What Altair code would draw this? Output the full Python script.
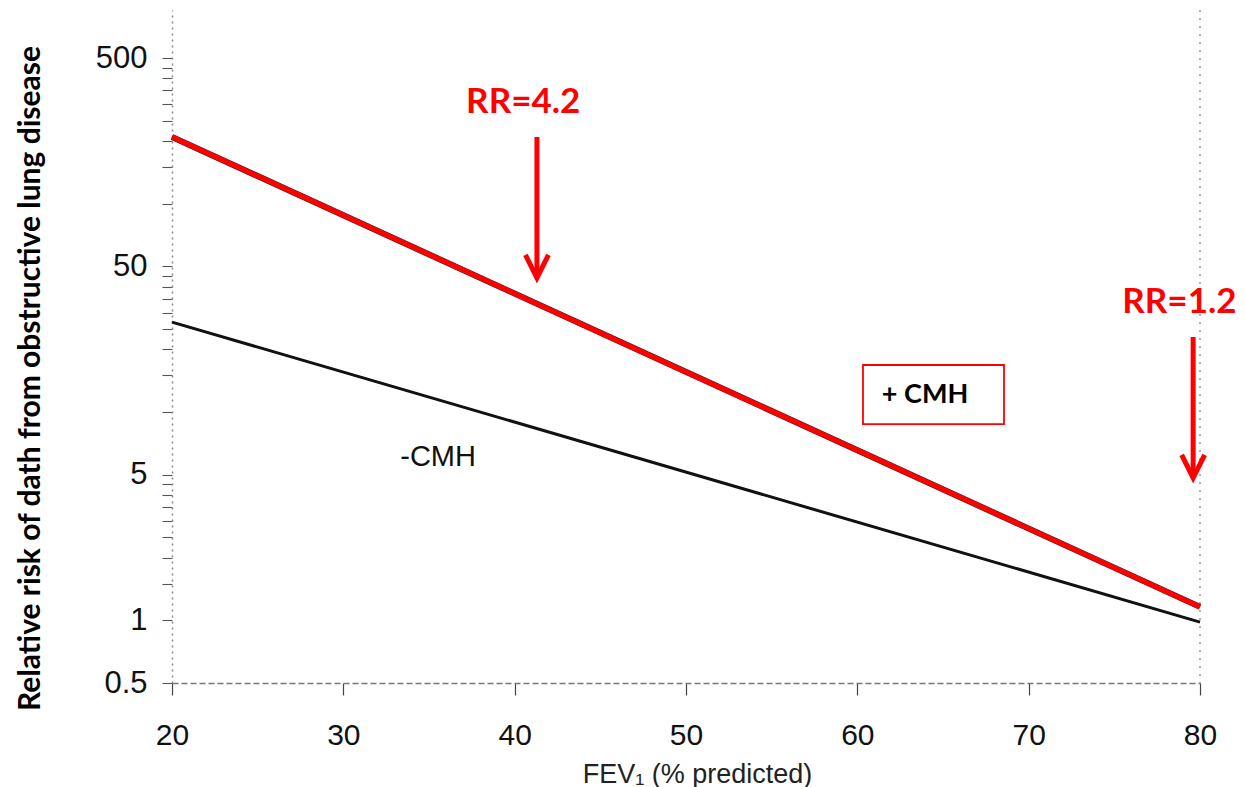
import altair as alt
import pandas as pd

# FEV1 (% predicted) at the two ends of each fitted line
fev = [20, 80]
# relative risk of death, with and without chronic mucus hypersecretion
rr_with_cmh = [209, 1.16]
rr_without_cmh = [27, 0.98]

x_ticks = [20, 30, 40, 50, 60, 70, 80]
y_labels = [0.5, 1, 5, 50, 500]
y_ticks = [0.5, 1, 1.5, 2, 2.5, 3, 3.5, 4, 4.5, 5,
           10, 15, 20, 25, 30, 35, 40, 45, 50,
           100, 150, 200, 250, 300, 350, 400, 450, 500]

# annotation text, placed in data space
note_text = ["RR=4.2", "RR=1.2"]
note_x = [40.5, 78.8]
note_y = [306, 33.7]

arrow_x = [41.3, 79.6]
arrow_top = [209, 22.9]
arrow_tip = [44.0, 4.82]

lines_df = pd.DataFrame({
    "fev": fev + fev,
    "rr": rr_with_cmh + rr_without_cmh,
    "group": ["+ CMH"] * 2 + ["-CMH"] * 2,
})
plus_df = lines_df[lines_df.group == "+ CMH"]
minus_df = lines_df[lines_df.group == "-CMH"]
notes_df = pd.DataFrame({"fev": note_x, "rr": note_y, "label": note_text})
arrows_df = pd.DataFrame({"fev": arrow_x, "rr": arrow_top, "tip": arrow_tip})

xscale = alt.Scale(domain=[20, 80], nice=False, zero=False)
yscale = alt.Scale(type="log", domain=[0.5, 850], nice=False)

x_axis = alt.Axis(
    values=x_ticks, format="d", labelFlush=False,
    labelFont="Liberation Sans", labelFontSize=30, labelColor="#111",
    labelPadding=25, tickSize=12, tickColor="#444", tickWidth=1.2,
    domainColor="#777", domainDash=[6, 3], domainWidth=1.5, grid=False,
    title="FEV₁ (% predicted)", titleFont="Liberation Sans", titleFontSize=27,
    titleFontWeight="normal", titleColor="#222",
    titleX=525, titleY=99, titleAlign="center", titleBaseline="alphabetic",
)
y_axis = alt.Axis(
    values=y_ticks,
    labelExpr="indexof([0.5, 1, 5, 50, 500], datum.value) >= 0 ? datum.value : ''",
    labelFont="Liberation Sans", labelFontSize=31, labelColor="#111",
    labelPadding=15, labelOverlap=False, labelBound=False, labelFlush=False,
    tickSize=10, tickColor="#555", tickWidth=1.1,
    domainColor="#888", domainDash=[2, 4], domainWidth=1.5, grid=False,
    title="Relative risk of dath from obstructive lung disease",
    titleFont="Lato", titleFontSize=30, titleFontWeight="bold", titleColor="#000",
    titleAngle=270, titleX=-142, titleY=368, titleAlign="center", titleBaseline="middle",
)


def xenc(field="fev"):
    return alt.X(f"{field}:Q", scale=xscale, axis=x_axis)


def yenc(field="rr"):
    return alt.Y(f"{field}:Q", scale=yscale, axis=y_axis)


base_minus = alt.Chart(minus_df).mark_line(color="#111", strokeWidth=3).encode(
    x=xenc(), y=yenc(),
)
plus_shadow = alt.Chart(plus_df).mark_line(color="#222", strokeWidth=6).encode(
    x=xenc(), y=yenc(),
)
plus_line = alt.Chart(plus_df).mark_line(color="#ff0000", strokeWidth=5.2).encode(
    x=xenc(), y=yenc(),
)

# dotted frame line at the right end of the x range
frame_right = alt.Chart(pd.DataFrame({"fev": [80]})).mark_rule(
    color="#999", strokeDash=[2, 6], strokeWidth=1.5
).encode(x=xenc())

shafts = alt.Chart(arrows_df).mark_rule(color="#ff0000", strokeWidth=5).encode(
    x=xenc(), y=yenc(), y2="tip:Q",
)
heads = alt.Chart(arrows_df).mark_point(
    shape="M-1,-2L0,0L1,-2", size=529, filled=False,
    color="#ff0000", strokeWidth=5, opacity=1,
).encode(x=xenc(), y=yenc("tip"))
notes = alt.Chart(notes_df).mark_text(
    font="Lato", fontWeight="bold", fontSize=35, color="#ff0000",
    align="center", baseline="middle",
).encode(x=xenc(), y=yenc(), text="label:N")

# boxed label for the +CMH line
box_df = pd.DataFrame({"fev": [60.33], "x2": [68.56], "rr": [8.75], "y2": [16.8]})
box = alt.Chart(box_df).mark_rect(
    fill="white", fillOpacity=0, stroke="#ff0000", strokeWidth=1.8
).encode(x=xenc(), x2="x2:Q", y=yenc(), y2="y2:Q")
plus_label = alt.Chart(pd.DataFrame({"fev": [63.95], "rr": [12.06], "label": ["+ CMH"]})).mark_text(
    font="Lato", fontWeight="bold", fontSize=27, color="#000",
    align="center", baseline="middle",
).encode(x=xenc(), y=yenc(), text="label:N")
minus_label = alt.Chart(pd.DataFrame({"fev": [35.53], "rr": [6.08], "label": ["-CMH"]})).mark_text(
    font="Liberation Sans", fontSize=29, color="#111",
    align="center", baseline="middle",
).encode(x=xenc(), y=yenc(), text="label:N")

chart = alt.layer(
    base_minus, frame_right, plus_shadow, plus_line,
    shafts, heads, notes, box, plus_label, minus_label,
).properties(
    width=1028, height=673,
    autosize=alt.AutoSizeParams(type="none"),
    padding={"left": 172, "top": 10, "right": 45, "bottom": 104},
    background="white",
).configure_view(stroke=None)

chart.save("out.html", embed_options={"renderer": "svg", "actions": False})
